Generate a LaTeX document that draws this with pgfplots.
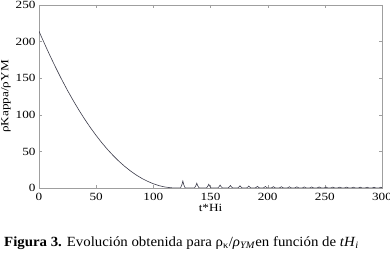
\documentclass[border=0pt]{standalone}
\usepackage{pgfplots}
\pgfplotsset{compat=1.18}
\usepackage{fontspec}
\setmainfont{Liberation Serif}
\newfontfamily\tickfont[FakeStretch=1.2]{Liberation Serif}
\newfontfamily\capfont[FakeStretch=1.06]{Liberation Serif}
\begin{document}
\begin{tikzpicture}
\path[use as bounding box] (0,0) rectangle (390bp,253bp);
\begin{axis}[
  at={(39bp,65bp)}, anchor=south west,
  scale only axis, width=343bp, height=183bp,
  xmin=0, xmax=300, ymin=0, ymax=250,
  xtick={0,50,...,300}, ytick={0,50,...,250},
  tick align=inside, major tick length=3bp,
  axis line style={color=gray!75},
  tick style={color=gray!75},
  /pgf/number format/assume math mode=true,
  ticklabel style={font=\tickfont\fontsize{11bp}{13bp}\selectfont, text=black},
  xticklabel style={yshift=-2bp},
  yticklabel style={xshift=0bp},
  xlabel={t*Hi}, ylabel={ρKappa/ρYM},
  label style={font=\tickfont\fontsize{11bp}{13bp}\selectfont},
  xlabel style={yshift=4bp},
  ylabel style={yshift=-2bp},
]
\addplot[color={rgb,255:red,215;green,110;blue,215}, densely dotted, line width=0.6pt] coordinates {(0,0) (300,0)};
\addplot[color={rgb,255:red,60;green,60;blue,75}, line width=0.6pt] coordinates {
(0,214) (5,196.5) (10,179.5) (15,163.3) (20,147.8) (25,133.1) (30,119.3) (35,106.2)
(40,93.9) (45,82.4) (50,71.7) (55,61.7) (60,52.5) (65,44.1) (70,36.4) (75,29.5)
(80,23.3) (85,17.8) (90,13.1) (95,9.1) (100,5.8) (105,3.2) (110,1.4) (115,0.4) (118,0.1) (120,0.1)
(123.8,0.1) (125,4.5) (125.8,9.5) (126.6,4.5) (127.8,0.1)
(136,0.1) (137.2,3.2) (138,6.5) (138.8,3.2) (140,0.1)
(146.5,0.1) (147.7,2.5) (148.5,5) (149.3,2.5) (150.5,0.1)
(156.4,0.1) (157.6,2) (158.4,4) (159.2,2) (160.4,0.1)
(165.4,0.1) (166.6,1.7) (167.4,3.4) (168.2,1.7) (169.4,0.1)
(173.8,0.1) (175,1.5) (175.8,3) (176.6,1.5) (177.8,0.1)
(181.5,0.1) (182.7,1.3) (183.5,2.6) (184.3,1.3) (185.5,0.1)
(189,0.1) (190.2,1.1) (191,2.3) (191.8,1.1) (193,0.1)
(196,0.1) (197.2,1) (198,2.1) (198.8,1) (200,0.1)
(203,0.1) (204.2,0.9) (205,1.9) (205.8,0.9) (207,0.1)
(210,0.1) (211.2,0.9) (212,1.8) (212.8,0.9) (214,0.1)
(217,0.1) (218.2,0.8) (219,1.7) (219.8,0.8) (221,0.1)
(223.5,0.1) (224.7,0.8) (225.5,1.6) (226.3,0.8) (227.5,0.1)
(230,0.1) (231.2,0.7) (232,1.5) (232.8,0.7) (234,0.1)
(236.5,0.1) (237.7,0.7) (238.5,1.4) (239.3,0.7) (240.5,0.1)
(243,0.1) (244.2,0.7) (245,1.4) (245.8,0.7) (247,0.1)
(249,0.1) (250.2,0.6) (251,1.3) (251.8,0.6) (253,0.1)
(255,0.1) (256.2,0.6) (257,1.3) (257.8,0.6) (259,0.1)
(261,0.1) (262.2,0.6) (263,1.2) (263.8,0.6) (265,0.1)
(267,0.1) (268.2,0.6) (269,1.2) (269.8,0.6) (271,0.1)
(273,0.1) (274.2,0.5) (275,1.1) (275.8,0.5) (277,0.1)
(279,0.1) (280.2,0.5) (281,1.1) (281.8,0.5) (283,0.1)
(285,0.1) (286.2,0.5) (287,1) (287.8,0.5) (289,0.1)
(291,0.1) (292.2,0.5) (293,1) (293.8,0.5) (295,0.1)
(297,0.1) (298.2,0.5) (299,1) (300,0.3)
};
\end{axis}
\node[anchor=base west, inner sep=0pt, font=\capfont\fontsize{14bp}{16bp}\selectfont] at (4bp,7bp)
 {\textbf{Figura 3.} Evolución obtenida para ρ\textsubscript{κ}/\textit{ρ}\textsubscript{\textit{YM}}en función de \textit{tH}\textsubscript{\textit{i}}};
\end{tikzpicture}
\end{document}
